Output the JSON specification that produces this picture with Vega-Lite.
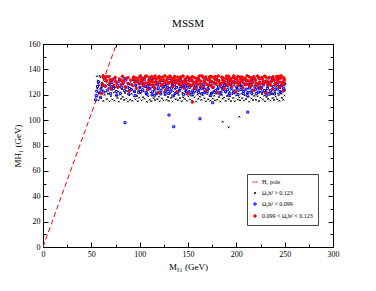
{
 "$schema": "https://vega.github.io/schema/vega-lite/v6.json",
 "width": 290, "height": 203,
 "autosize": "none",
 "padding": {"left": 43, "top": 44, "right": 43, "bottom": 44},
 "background": "white",
 "config": {"font": "Liberation Serif", "view": {"stroke": null}},
 "title": {"text": "MSSM", "fontSize": 11, "font": "Liberation Serif", "fontWeight": "normal", "offset": 11, "anchor": "middle", "color": "black"},
 "layer": [
  {
   "data": {"values": [{"x": 0, "y": 0}, {"x": 76, "y": 160}]},
   "mark": {"type": "line", "color": "#ff0000", "strokeDash": [5, 3], "strokeWidth": 1, "clip": true},
   "encoding": {
    "x": {"field": "x", "type": "quantitative", "scale": {"domain": [0, 300], "nice": false, "zero": false},
     "axis": {"orient": "bottom", "values": [0,25,50,75,100,125,150,175,200,225,250,275,300], "labelExpr": "datum.value % 50 === 0 ? datum.label : ''",
      "tickSize": {"condition": {"test": "datum.value % 50 === 0", "value": -5}, "value": -3},
      "title": "Mᵪ₁ (GeV)", "titleFont": "Liberation Serif", "titleFontSize": 9, "titleFontWeight": "normal", "titlePadding": 2, "titleColor": "black",
      "labelFont": "Liberation Serif", "labelFontSize": 8, "labelPadding": 8, "labelColor": "black", "labelFlush": false, "labelOverlap": false,
      "domainColor": "black", "tickColor": "black", "grid": false}},
    "y": {"field": "y", "type": "quantitative", "scale": {"domain": [0, 160], "nice": false, "zero": false},
     "axis": {"orient": "left", "values": [0,10,20,30,40,50,60,70,80,90,100,110,120,130,140,150,160], "labelExpr": "datum.value % 20 === 0 ? datum.label : ''",
      "tickSize": {"condition": {"test": "datum.value % 20 === 0", "value": -5}, "value": -3},
      "title": "MH₁ (GeV)", "titleFont": "Liberation Serif", "titleFontSize": 9, "titleFontWeight": "normal", "titlePadding": 6, "titleColor": "black",
      "labelFont": "Liberation Serif", "labelFontSize": 8, "labelPadding": 8, "labelColor": "black", "labelFlush": false, "labelOverlap": false,
      "domainColor": "black", "tickColor": "black", "grid": false}}
   }
  },
  {
   "data": {"values": [
{"x":55.3,"y":118.4,"s":"hi"},{"x":56.1,"y":124.9,"s":"hi"},{"x":56.8,"y":131.2,"s":"hi"},{"x":57.4,"y":115.7,"s":"hi"},{"x":58.2,"y":127.6,"s":"hi"},{"x":58.9,"y":121.3,"s":"hi"},{"x":59.5,"y":133.8,"s":"hi"},{"x":60.3,"y":117.2,"s":"hi"},{"x":61.0,"y":129.4,"s":"hi"},{"x":61.6,"y":123.5,"s":"hi"},
{"x":62.4,"y":115.1,"s":"hi"},{"x":63.1,"y":126.8,"s":"hi"},{"x":63.7,"y":119.9,"s":"hi"},{"x":64.5,"y":132.6,"s":"hi"},{"x":65.2,"y":122.4,"s":"hi"},{"x":65.9,"y":116.6,"s":"hi"},{"x":66.7,"y":128.1,"s":"hi"},{"x":67.3,"y":120.7,"s":"hi"},{"x":68.0,"y":125.3,"s":"hi"},{"x":68.8,"y":114.8,"s":"hi"},
{"x":69.5,"y":130.2,"s":"hi"},{"x":70.2,"y":118.9,"s":"hi"},{"x":71.0,"y":123.9,"s":"hi"},{"x":71.7,"y":116.3,"s":"hi"},{"x":72.4,"y":127.0,"s":"hi"},{"x":73.2,"y":121.8,"s":"hi"},{"x":74.0,"y":115.4,"s":"hi"},{"x":74.6,"y":125.9,"s":"hi"},{"x":75.5,"y":119.2,"s":"hi"},{"x":76.3,"y":128.7,"s":"hi"},
{"x":77.0,"y":117.5,"s":"hi"},{"x":77.8,"y":122.6,"s":"hi"},{"x":78.5,"y":114.6,"s":"hi"},{"x":79.3,"y":126.2,"s":"hi"},{"x":80.1,"y":120.1,"s":"hi"},{"x":80.9,"y":116.8,"s":"hi"},{"x":81.6,"y":124.4,"s":"hi"},{"x":82.4,"y":118.3,"s":"hi"},{"x":83.2,"y":127.9,"s":"hi"},{"x":84.0,"y":115.9,"s":"hi"},
{"x":84.7,"y":121.5,"s":"hi"},{"x":85.5,"y":125.1,"s":"hi"},{"x":86.3,"y":117.0,"s":"hi"},{"x":87.1,"y":122.9,"s":"hi"},{"x":87.8,"y":114.7,"s":"hi"},{"x":88.6,"y":128.4,"s":"hi"},{"x":89.4,"y":119.6,"s":"hi"},{"x":90.2,"y":116.1,"s":"hi"},{"x":91.0,"y":124.7,"s":"hi"},{"x":91.7,"y":120.8,"s":"hi"},
{"x":92.5,"y":115.3,"s":"hi"},{"x":93.3,"y":126.6,"s":"hi"},{"x":94.1,"y":118.6,"s":"hi"},{"x":94.9,"y":122.2,"s":"hi"},{"x":95.6,"y":116.4,"s":"hi"},{"x":96.4,"y":127.3,"s":"hi"},{"x":97.2,"y":119.0,"s":"hi"},{"x":98.0,"y":114.9,"s":"hi"},{"x":98.8,"y":123.7,"s":"hi"},{"x":99.5,"y":117.7,"s":"hi"},
{"x":100.3,"y":125.5,"s":"hi"},{"x":101.1,"y":121.0,"s":"hi"},{"x":101.9,"y":115.6,"s":"hi"},{"x":102.7,"y":128.9,"s":"hi"},{"x":103.5,"y":118.1,"s":"hi"},{"x":104.2,"y":122.5,"s":"hi"},{"x":105.0,"y":116.9,"s":"hi"},{"x":105.8,"y":126.0,"s":"hi"},{"x":106.6,"y":120.4,"s":"hi"},{"x":107.4,"y":114.5,"s":"hi"},
{"x":108.2,"y":124.2,"s":"hi"},{"x":108.9,"y":118.8,"s":"hi"},{"x":109.7,"y":127.7,"s":"hi"},{"x":110.5,"y":116.2,"s":"hi"},{"x":111.3,"y":121.9,"s":"hi"},{"x":112.1,"y":115.0,"s":"hi"},{"x":112.9,"y":125.7,"s":"hi"},{"x":113.6,"y":119.4,"s":"hi"},{"x":114.4,"y":117.3,"s":"hi"},{"x":115.2,"y":123.1,"s":"hi"},
{"x":116.0,"y":115.8,"s":"hi"},{"x":116.8,"y":128.2,"s":"hi"},{"x":117.6,"y":120.6,"s":"hi"},{"x":118.4,"y":116.6,"s":"hi"},{"x":119.1,"y":124.0,"s":"hi"},{"x":119.9,"y":118.5,"s":"hi"},{"x":120.7,"y":114.8,"s":"hi"},{"x":121.5,"y":126.9,"s":"hi"},{"x":122.3,"y":121.2,"s":"hi"},{"x":123.1,"y":117.1,"s":"hi"},
{"x":123.8,"y":125.2,"s":"hi"},{"x":124.6,"y":115.5,"s":"hi"},{"x":125.4,"y":122.0,"s":"hi"},{"x":126.2,"y":119.7,"s":"hi"},{"x":127.0,"y":127.4,"s":"hi"},{"x":127.8,"y":116.0,"s":"hi"},{"x":128.6,"y":123.3,"s":"hi"},{"x":129.3,"y":118.2,"s":"hi"},{"x":130.1,"y":115.2,"s":"hi"},{"x":130.9,"y":125.8,"s":"hi"},
{"x":131.7,"y":120.9,"s":"hi"},{"x":132.5,"y":117.6,"s":"hi"},{"x":133.3,"y":128.6,"s":"hi"},{"x":134.0,"y":114.7,"s":"hi"},{"x":134.8,"y":122.7,"s":"hi"},{"x":135.6,"y":119.1,"s":"hi"},{"x":136.4,"y":124.6,"s":"hi"},{"x":137.2,"y":116.5,"s":"hi"},{"x":138.0,"y":121.4,"s":"hi"},{"x":138.7,"y":126.4,"s":"hi"},
{"x":139.5,"y":115.7,"s":"hi"},{"x":140.3,"y":119.8,"s":"hi"},{"x":141.1,"y":123.6,"s":"hi"},{"x":141.9,"y":117.4,"s":"hi"},{"x":142.7,"y":127.1,"s":"hi"},{"x":143.4,"y":114.9,"s":"hi"},{"x":144.2,"y":121.6,"s":"hi"},{"x":145.0,"y":118.0,"s":"hi"},{"x":145.8,"y":125.0,"s":"hi"},{"x":146.6,"y":116.7,"s":"hi"},
{"x":147.4,"y":122.8,"s":"hi"},{"x":148.2,"y":120.2,"s":"hi"},{"x":148.9,"y":115.4,"s":"hi"},{"x":149.7,"y":126.7,"s":"hi"},{"x":150.5,"y":118.7,"s":"hi"},{"x":151.3,"y":123.2,"s":"hi"},{"x":152.1,"y":116.3,"s":"hi"},{"x":152.9,"y":121.1,"s":"hi"},{"x":153.6,"y":128.3,"s":"hi"},{"x":154.4,"y":115.1,"s":"hi"},
{"x":155.2,"y":119.3,"s":"hi"},{"x":156.0,"y":124.5,"s":"hi"},{"x":156.8,"y":117.9,"s":"hi"},{"x":157.6,"y":122.3,"s":"hi"},{"x":158.3,"y":114.6,"s":"hi"},{"x":159.1,"y":126.1,"s":"hi"},{"x":159.9,"y":120.0,"s":"hi"},{"x":160.7,"y":116.8,"s":"hi"},{"x":161.5,"y":123.8,"s":"hi"},{"x":162.3,"y":118.4,"s":"hi"},
{"x":163.0,"y":127.5,"s":"hi"},{"x":163.8,"y":115.9,"s":"hi"},{"x":164.6,"y":121.7,"s":"hi"},{"x":165.4,"y":119.5,"s":"hi"},{"x":166.2,"y":125.4,"s":"hi"},{"x":167.0,"y":117.2,"s":"hi"},{"x":167.8,"y":122.4,"s":"hi"},{"x":168.5,"y":114.8,"s":"hi"},{"x":169.3,"y":128.0,"s":"hi"},{"x":170.1,"y":120.5,"s":"hi"},
{"x":170.9,"y":116.4,"s":"hi"},{"x":171.7,"y":124.3,"s":"hi"},{"x":172.5,"y":118.9,"s":"hi"},{"x":173.2,"y":115.3,"s":"hi"},{"x":174.0,"y":126.5,"s":"hi"},{"x":174.8,"y":121.3,"s":"hi"},{"x":175.6,"y":117.0,"s":"hi"},{"x":176.4,"y":123.0,"s":"hi"},{"x":177.2,"y":119.2,"s":"hi"},{"x":177.9,"y":115.6,"s":"hi"},
{"x":178.7,"y":127.8,"s":"hi"},{"x":179.5,"y":120.7,"s":"hi"},{"x":180.3,"y":116.1,"s":"hi"},{"x":181.1,"y":124.8,"s":"hi"},{"x":181.9,"y":118.2,"s":"hi"},{"x":182.7,"y":122.1,"s":"hi"},{"x":183.4,"y":114.7,"s":"hi"},{"x":184.2,"y":125.6,"s":"hi"},{"x":185.0,"y":119.9,"s":"hi"},{"x":185.8,"y":116.9,"s":"hi"},
{"x":186.6,"y":123.5,"s":"hi"},{"x":187.4,"y":117.8,"s":"hi"},{"x":188.1,"y":128.5,"s":"hi"},{"x":188.9,"y":115.2,"s":"hi"},{"x":189.7,"y":121.8,"s":"hi"},{"x":190.5,"y":119.0,"s":"hi"},{"x":191.3,"y":126.3,"s":"hi"},{"x":192.1,"y":116.5,"s":"hi"},{"x":192.9,"y":122.6,"s":"hi"},{"x":193.6,"y":118.6,"s":"hi"},
{"x":194.4,"y":115.0,"s":"hi"},{"x":195.2,"y":124.1,"s":"hi"},{"x":196.0,"y":120.3,"s":"hi"},{"x":196.8,"y":117.5,"s":"hi"},{"x":197.6,"y":127.2,"s":"hi"},{"x":198.3,"y":114.9,"s":"hi"},{"x":199.1,"y":121.5,"s":"hi"},{"x":199.9,"y":119.4,"s":"hi"},{"x":200.7,"y":125.3,"s":"hi"},{"x":201.5,"y":116.2,"s":"hi"},
{"x":202.3,"y":122.9,"s":"hi"},{"x":203.1,"y":118.0,"s":"hi"},{"x":203.8,"y":115.7,"s":"hi"},{"x":204.6,"y":126.8,"s":"hi"},{"x":205.4,"y":120.8,"s":"hi"},{"x":206.2,"y":117.3,"s":"hi"},{"x":207.0,"y":123.4,"s":"hi"},{"x":207.8,"y":115.4,"s":"hi"},{"x":208.5,"y":119.6,"s":"hi"},{"x":209.3,"y":128.1,"s":"hi"},
{"x":210.1,"y":116.6,"s":"hi"},{"x":210.9,"y":121.2,"s":"hi"},{"x":211.7,"y":124.9,"s":"hi"},{"x":212.5,"y":118.3,"s":"hi"},{"x":213.3,"y":114.6,"s":"hi"},{"x":214.0,"y":122.5,"s":"hi"},{"x":214.8,"y":126.0,"s":"hi"},{"x":215.6,"y":117.1,"s":"hi"},{"x":216.4,"y":120.1,"s":"hi"},{"x":217.2,"y":115.8,"s":"hi"},
{"x":218.0,"y":123.9,"s":"hi"},{"x":218.7,"y":119.1,"s":"hi"},{"x":219.5,"y":127.6,"s":"hi"},{"x":220.3,"y":116.0,"s":"hi"},{"x":221.1,"y":121.9,"s":"hi"},{"x":221.9,"y":118.8,"s":"hi"},{"x":222.7,"y":125.5,"s":"hi"},{"x":223.4,"y":115.1,"s":"hi"},{"x":224.2,"y":122.2,"s":"hi"},{"x":225.0,"y":117.7,"s":"hi"},
{"x":225.8,"y":124.4,"s":"hi"},{"x":226.6,"y":120.6,"s":"hi"},{"x":227.4,"y":116.3,"s":"hi"},{"x":228.2,"y":128.8,"s":"hi"},{"x":228.9,"y":119.3,"s":"hi"},{"x":229.7,"y":114.8,"s":"hi"},{"x":230.5,"y":123.6,"s":"hi"},{"x":231.3,"y":118.1,"s":"hi"},{"x":232.1,"y":125.9,"s":"hi"},{"x":232.9,"y":116.7,"s":"hi"},
{"x":233.6,"y":121.4,"s":"hi"},{"x":234.4,"y":119.8,"s":"hi"},{"x":235.2,"y":115.5,"s":"hi"},{"x":236.0,"y":127.0,"s":"hi"},{"x":236.8,"y":120.4,"s":"hi"},{"x":237.6,"y":117.4,"s":"hi"},{"x":238.3,"y":124.0,"s":"hi"},{"x":239.1,"y":115.9,"s":"hi"},{"x":239.9,"y":122.0,"s":"hi"},{"x":240.7,"y":118.5,"s":"hi"},
{"x":241.5,"y":126.2,"s":"hi"},{"x":242.3,"y":116.4,"s":"hi"},{"x":243.0,"y":121.0,"s":"hi"},{"x":243.8,"y":119.7,"s":"hi"},{"x":244.6,"y":115.3,"s":"hi"},{"x":245.4,"y":125.2,"s":"hi"},{"x":246.2,"y":120.9,"s":"hi"},{"x":247.0,"y":117.6,"s":"hi"},{"x":247.7,"y":123.3,"s":"hi"},{"x":248.5,"y":116.1,"s":"hi"},
{"x":249.3,"y":127.3,"s":"hi"},{"x":249.8,"y":119.4,"s":"hi"},
{"x":55.8,"y":134.5,"s":"hi"},{"x":57.0,"y":129.0,"s":"hi"},{"x":58.6,"y":135.0,"s":"hi"},{"x":60.9,"y":126.0,"s":"hi"},{"x":62.0,"y":134.0,"s":"hi"},{"x":64.0,"y":130.5,"s":"hi"},{"x":66.2,"y":133.9,"s":"hi"},{"x":69.0,"y":134.8,"s":"hi"},{"x":73.5,"y":133.0,"s":"hi"},{"x":79.0,"y":131.5,"s":"hi"},
{"x":86.8,"y":132.8,"s":"hi"},{"x":95.1,"y":130.9,"s":"hi"},{"x":104.8,"y":133.5,"s":"hi"},{"x":113.0,"y":131.7,"s":"hi"},{"x":121.9,"y":134.2,"s":"hi"},{"x":131.3,"y":132.1,"s":"hi"},{"x":142.0,"y":130.6,"s":"hi"},{"x":151.0,"y":133.8,"s":"hi"},{"x":160.2,"y":131.3,"s":"hi"},{"x":171.0,"y":134.4,"s":"hi"},
{"x":182.0,"y":130.2,"s":"hi"},{"x":194.0,"y":133.2,"s":"hi"},{"x":206.5,"y":131.0,"s":"hi"},{"x":218.5,"y":134.6,"s":"hi"},{"x":231.0,"y":130.8,"s":"hi"},{"x":244.0,"y":133.6,"s":"hi"},{"x":248.8,"y":131.5,"s":"hi"},
{"x":185.9,"y":98.8,"s":"hi"},{"x":192.1,"y":94.3,"s":"hi"},{"x":203.1,"y":102.7,"s":"hi"},
{"x":54.2,"y":116.0,"s":"lo"},{"x":54.9,"y":119.3,"s":"lo"},{"x":55.6,"y":122.8,"s":"lo"},{"x":56.4,"y":126.5,"s":"lo"},{"x":57.5,"y":130.1,"s":"lo"},{"x":58.7,"y":121.6,"s":"lo"},{"x":60.0,"y":124.4,"s":"lo"},{"x":61.3,"y":128.0,"s":"lo"},{"x":62.7,"y":122.1,"s":"lo"},{"x":64.1,"y":126.9,"s":"lo"},
{"x":65.6,"y":131.0,"s":"lo"},{"x":67.0,"y":123.7,"s":"lo"},{"x":68.4,"y":127.8,"s":"lo"},{"x":69.9,"y":120.9,"s":"lo"},{"x":71.3,"y":129.6,"s":"lo"},{"x":72.8,"y":124.9,"s":"lo"},{"x":74.2,"y":132.3,"s":"lo"},{"x":75.7,"y":122.5,"s":"lo"},{"x":77.1,"y":127.1,"s":"lo"},{"x":78.6,"y":130.7,"s":"lo"},
{"x":80.0,"y":121.2,"s":"lo"},{"x":81.5,"y":125.6,"s":"lo"},{"x":82.9,"y":129.2,"s":"lo"},{"x":84.4,"y":123.3,"s":"lo"},{"x":85.8,"y":131.6,"s":"lo"},{"x":87.3,"y":126.1,"s":"lo"},{"x":88.7,"y":120.6,"s":"lo"},{"x":90.2,"y":128.4,"s":"lo"},{"x":91.6,"y":124.0,"s":"lo"},{"x":93.1,"y":132.0,"s":"lo"},
{"x":94.5,"y":122.7,"s":"lo"},{"x":96.0,"y":127.4,"s":"lo"},{"x":97.4,"y":130.3,"s":"lo"},{"x":98.9,"y":121.8,"s":"lo"},{"x":100.3,"y":125.9,"s":"lo"},{"x":101.8,"y":129.0,"s":"lo"},{"x":103.2,"y":123.9,"s":"lo"},{"x":104.7,"y":131.8,"s":"lo"},{"x":106.1,"y":126.7,"s":"lo"},{"x":107.6,"y":120.4,"s":"lo"},
{"x":109.0,"y":128.9,"s":"lo"},{"x":110.5,"y":124.6,"s":"lo"},{"x":111.9,"y":132.5,"s":"lo"},{"x":113.4,"y":122.3,"s":"lo"},{"x":114.8,"y":127.0,"s":"lo"},{"x":116.3,"y":130.0,"s":"lo"},{"x":117.7,"y":121.4,"s":"lo"},{"x":119.2,"y":125.3,"s":"lo"},{"x":120.6,"y":129.5,"s":"lo"},{"x":122.1,"y":123.5,"s":"lo"},
{"x":123.5,"y":131.2,"s":"lo"},{"x":125.0,"y":126.3,"s":"lo"},{"x":126.4,"y":120.8,"s":"lo"},{"x":127.9,"y":128.6,"s":"lo"},{"x":129.3,"y":124.2,"s":"lo"},{"x":130.8,"y":132.8,"s":"lo"},{"x":132.2,"y":122.9,"s":"lo"},{"x":133.7,"y":127.6,"s":"lo"},{"x":135.1,"y":130.5,"s":"lo"},{"x":136.6,"y":121.0,"s":"lo"},
{"x":138.0,"y":125.8,"s":"lo"},{"x":139.5,"y":129.3,"s":"lo"},{"x":140.9,"y":123.1,"s":"lo"},{"x":142.4,"y":131.4,"s":"lo"},{"x":143.8,"y":126.5,"s":"lo"},{"x":145.3,"y":120.3,"s":"lo"},{"x":146.7,"y":128.2,"s":"lo"},{"x":148.2,"y":124.8,"s":"lo"},{"x":149.6,"y":132.2,"s":"lo"},{"x":151.1,"y":122.0,"s":"lo"},
{"x":152.5,"y":127.2,"s":"lo"},{"x":154.0,"y":130.9,"s":"lo"},{"x":155.4,"y":121.5,"s":"lo"},{"x":156.9,"y":125.5,"s":"lo"},{"x":158.3,"y":129.8,"s":"lo"},{"x":159.8,"y":123.8,"s":"lo"},{"x":161.2,"y":131.9,"s":"lo"},{"x":162.7,"y":126.0,"s":"lo"},{"x":164.1,"y":120.7,"s":"lo"},{"x":165.6,"y":128.5,"s":"lo"},
{"x":167.0,"y":124.3,"s":"lo"},{"x":168.5,"y":132.6,"s":"lo"},{"x":169.9,"y":122.6,"s":"lo"},{"x":171.4,"y":127.3,"s":"lo"},{"x":172.8,"y":130.4,"s":"lo"},{"x":174.3,"y":121.3,"s":"lo"},{"x":175.7,"y":125.7,"s":"lo"},{"x":177.2,"y":129.1,"s":"lo"},{"x":178.6,"y":123.4,"s":"lo"},{"x":180.1,"y":131.5,"s":"lo"},
{"x":181.5,"y":126.8,"s":"lo"},{"x":183.0,"y":120.5,"s":"lo"},{"x":184.4,"y":128.7,"s":"lo"},{"x":185.9,"y":124.5,"s":"lo"},{"x":187.3,"y":132.1,"s":"lo"},{"x":188.8,"y":122.4,"s":"lo"},{"x":190.2,"y":127.5,"s":"lo"},{"x":191.7,"y":130.6,"s":"lo"},{"x":193.1,"y":121.1,"s":"lo"},{"x":194.6,"y":125.2,"s":"lo"},
{"x":196.0,"y":129.4,"s":"lo"},{"x":197.5,"y":123.0,"s":"lo"},{"x":198.9,"y":131.3,"s":"lo"},{"x":200.4,"y":126.2,"s":"lo"},{"x":201.8,"y":120.2,"s":"lo"},{"x":203.3,"y":128.3,"s":"lo"},{"x":204.7,"y":124.1,"s":"lo"},{"x":206.2,"y":132.4,"s":"lo"},{"x":207.6,"y":122.8,"s":"lo"},{"x":209.1,"y":127.9,"s":"lo"},
{"x":210.5,"y":130.8,"s":"lo"},{"x":212.0,"y":121.7,"s":"lo"},{"x":213.4,"y":125.4,"s":"lo"},{"x":214.9,"y":129.7,"s":"lo"},{"x":216.3,"y":123.6,"s":"lo"},{"x":217.8,"y":131.7,"s":"lo"},{"x":219.2,"y":126.4,"s":"lo"},{"x":220.7,"y":120.9,"s":"lo"},{"x":222.1,"y":128.1,"s":"lo"},{"x":223.6,"y":124.7,"s":"lo"},
{"x":225.0,"y":132.7,"s":"lo"},{"x":226.5,"y":122.2,"s":"lo"},{"x":227.9,"y":127.7,"s":"lo"},{"x":229.4,"y":130.2,"s":"lo"},{"x":230.8,"y":121.9,"s":"lo"},{"x":232.3,"y":125.0,"s":"lo"},{"x":233.7,"y":129.9,"s":"lo"},{"x":235.2,"y":123.2,"s":"lo"},{"x":236.6,"y":131.1,"s":"lo"},{"x":238.1,"y":126.6,"s":"lo"},
{"x":239.5,"y":120.6,"s":"lo"},{"x":241.0,"y":128.8,"s":"lo"},{"x":242.4,"y":124.4,"s":"lo"},{"x":243.9,"y":132.9,"s":"lo"},{"x":245.3,"y":122.5,"s":"lo"},{"x":246.8,"y":127.4,"s":"lo"},{"x":248.2,"y":130.0,"s":"lo"},{"x":249.6,"y":123.7,"s":"lo"},
{"x":59.3,"y":118.0,"s":"lo"},{"x":63.4,"y":133.5,"s":"lo"},{"x":70.6,"y":126.3,"s":"lo"},{"x":76.4,"y":119.8,"s":"lo"},{"x":83.7,"y":133.1,"s":"lo"},{"x":89.5,"y":124.9,"s":"lo"},{"x":95.3,"y":119.5,"s":"lo"},{"x":102.5,"y":133.2,"s":"lo"},{"x":108.3,"y":126.2,"s":"lo"},{"x":115.6,"y":119.6,"s":"lo"},
{"x":121.4,"y":133.4,"s":"lo"},{"x":128.6,"y":126.0,"s":"lo"},{"x":134.4,"y":119.1,"s":"lo"},{"x":141.7,"y":133.3,"s":"lo"},{"x":147.5,"y":126.9,"s":"lo"},{"x":153.3,"y":119.9,"s":"lo"},{"x":160.5,"y":133.0,"s":"lo"},{"x":166.3,"y":126.6,"s":"lo"},{"x":173.6,"y":119.4,"s":"lo"},{"x":179.4,"y":133.6,"s":"lo"},
{"x":186.6,"y":126.1,"s":"lo"},{"x":192.4,"y":119.7,"s":"lo"},{"x":199.7,"y":133.1,"s":"lo"},{"x":205.5,"y":126.8,"s":"lo"},{"x":211.3,"y":119.3,"s":"lo"},{"x":218.5,"y":133.5,"s":"lo"},{"x":224.3,"y":125.9,"s":"lo"},{"x":231.6,"y":119.8,"s":"lo"},{"x":237.4,"y":133.2,"s":"lo"},{"x":244.6,"y":126.3,"s":"lo"},{"x":250.0,"y":128.5,"s":"lo"},
{"x":100.9,"y":122.6,"s":"lo"},{"x":104.0,"y":127.7,"s":"lo"},{"x":106.9,"y":121.9,"s":"lo"},{"x":109.8,"y":125.0,"s":"lo"},{"x":112.7,"y":120.0,"s":"lo"},{"x":115.8,"y":124.5,"s":"lo"},{"x":118.5,"y":127.8,"s":"lo"},{"x":121.8,"y":120.7,"s":"lo"},{"x":124.5,"y":126.8,"s":"lo"},{"x":127.2,"y":123.0,"s":"lo"},
{"x":130.0,"y":121.0,"s":"lo"},{"x":133.0,"y":125.1,"s":"lo"},{"x":136.0,"y":127.9,"s":"lo"},{"x":139.0,"y":121.6,"s":"lo"},{"x":142.0,"y":124.9,"s":"lo"},{"x":145.0,"y":127.0,"s":"lo"},{"x":148.0,"y":122.5,"s":"lo"},{"x":151.8,"y":125.8,"s":"lo"},{"x":154.8,"y":123.1,"s":"lo"},{"x":157.7,"y":127.5,"s":"lo"},
{"x":160.9,"y":121.8,"s":"lo"},{"x":164.0,"y":125.0,"s":"lo"},{"x":167.2,"y":121.6,"s":"lo"},{"x":170.6,"y":124.8,"s":"lo"},{"x":173.9,"y":127.6,"s":"lo"},{"x":177.5,"y":121.9,"s":"lo"},{"x":180.9,"y":124.6,"s":"lo"},{"x":184.1,"y":122.0,"s":"lo"},{"x":187.7,"y":127.2,"s":"lo"},{"x":191.0,"y":124.0,"s":"lo"},
{"x":194.0,"y":128.0,"s":"lo"},{"x":197.1,"y":121.5,"s":"lo"},{"x":200.8,"y":124.5,"s":"lo"},{"x":204.0,"y":127.0,"s":"lo"},{"x":207.2,"y":120.9,"s":"lo"},{"x":210.0,"y":124.4,"s":"lo"},{"x":213.0,"y":128.2,"s":"lo"},{"x":216.0,"y":121.2,"s":"lo"},{"x":219.9,"y":124.2,"s":"lo"},{"x":223.0,"y":122.0,"s":"lo"},
{"x":226.0,"y":125.6,"s":"lo"},{"x":229.0,"y":123.3,"s":"lo"},{"x":232.7,"y":127.6,"s":"lo"},{"x":236.0,"y":121.4,"s":"lo"},{"x":239.8,"y":124.0,"s":"lo"},{"x":242.8,"y":128.0,"s":"lo"},{"x":246.0,"y":121.6,"s":"lo"},{"x":248.9,"y":125.1,"s":"lo"},
{"x":84.8,"y":98.0,"s":"lo"},{"x":130.3,"y":104.0,"s":"lo"},{"x":135.2,"y":94.8,"s":"lo"},{"x":162.4,"y":101.1,"s":"lo"},{"x":175.5,"y":113.7,"s":"lo"},{"x":211.7,"y":106.3,"s":"lo"},
{"x":60.5,"y":121.0,"s":"ok"},{"x":61.8,"y":128.3,"s":"ok"},{"x":63.0,"y":132.9,"s":"ok"},{"x":64.6,"y":126.7,"s":"ok"},{"x":66.0,"y":130.8,"s":"ok"},{"x":67.5,"y":134.2,"s":"ok"},{"x":68.9,"y":128.9,"s":"ok"},{"x":70.4,"y":124.5,"s":"ok"},{"x":71.8,"y":131.9,"s":"ok"},{"x":73.3,"y":127.4,"s":"ok"},
{"x":74.7,"y":133.7,"s":"ok"},{"x":76.2,"y":129.6,"s":"ok"},{"x":77.6,"y":125.8,"s":"ok"},{"x":79.1,"y":132.4,"s":"ok"},{"x":80.5,"y":128.1,"s":"ok"},{"x":82.0,"y":134.6,"s":"ok"},{"x":83.4,"y":130.3,"s":"ok"},{"x":84.9,"y":126.2,"s":"ok"},{"x":86.3,"y":133.0,"s":"ok"},{"x":87.8,"y":129.0,"s":"ok"},
{"x":89.2,"y":122.8,"s":"ok"},{"x":90.7,"y":131.4,"s":"ok"},{"x":92.1,"y":127.7,"s":"ok"},{"x":93.6,"y":134.0,"s":"ok"},{"x":95.0,"y":129.9,"s":"ok"},{"x":96.5,"y":125.1,"s":"ok"},{"x":97.9,"y":132.7,"s":"ok"},{"x":99.4,"y":128.6,"s":"ok"},{"x":100.8,"y":134.9,"s":"ok"},{"x":102.3,"y":130.6,"s":"ok"},
{"x":103.7,"y":126.9,"s":"ok"},{"x":105.2,"y":133.4,"s":"ok"},{"x":106.6,"y":129.3,"s":"ok"},{"x":108.1,"y":124.1,"s":"ok"},{"x":109.5,"y":131.6,"s":"ok"},{"x":111.0,"y":127.9,"s":"ok"},{"x":112.4,"y":134.4,"s":"ok"},{"x":113.9,"y":130.0,"s":"ok"},{"x":115.3,"y":125.5,"s":"ok"},{"x":116.8,"y":132.2,"s":"ok"},
{"x":118.2,"y":128.4,"s":"ok"},{"x":119.7,"y":121.7,"s":"ok"},{"x":121.1,"y":130.9,"s":"ok"},{"x":122.6,"y":127.2,"s":"ok"},{"x":124.0,"y":133.9,"s":"ok"},{"x":125.5,"y":129.5,"s":"ok"},{"x":126.9,"y":123.9,"s":"ok"},{"x":128.4,"y":132.6,"s":"ok"},{"x":129.8,"y":128.8,"s":"ok"},{"x":131.3,"y":134.7,"s":"ok"},
{"x":132.7,"y":130.4,"s":"ok"},{"x":134.2,"y":126.4,"s":"ok"},{"x":135.6,"y":133.1,"s":"ok"},{"x":137.1,"y":129.2,"s":"ok"},{"x":138.5,"y":122.5,"s":"ok"},{"x":140.0,"y":131.3,"s":"ok"},{"x":141.4,"y":127.6,"s":"ok"},{"x":142.9,"y":134.1,"s":"ok"},{"x":144.3,"y":130.1,"s":"ok"},{"x":145.8,"y":125.3,"s":"ok"},
{"x":147.2,"y":132.5,"s":"ok"},{"x":148.7,"y":128.5,"s":"ok"},{"x":150.1,"y":120.8,"s":"ok"},{"x":151.6,"y":131.0,"s":"ok"},{"x":153.0,"y":127.0,"s":"ok"},{"x":154.5,"y":134.3,"s":"ok"},{"x":155.9,"y":129.8,"s":"ok"},{"x":157.4,"y":124.7,"s":"ok"},{"x":158.8,"y":132.8,"s":"ok"},{"x":160.3,"y":128.2,"s":"ok"},
{"x":161.7,"y":134.8,"s":"ok"},{"x":163.2,"y":130.7,"s":"ok"},{"x":164.6,"y":126.1,"s":"ok"},{"x":166.1,"y":133.2,"s":"ok"},{"x":167.5,"y":129.4,"s":"ok"},{"x":169.0,"y":123.3,"s":"ok"},{"x":170.4,"y":131.7,"s":"ok"},{"x":171.9,"y":127.8,"s":"ok"},{"x":173.3,"y":134.5,"s":"ok"},{"x":174.8,"y":130.2,"s":"ok"},
{"x":176.2,"y":125.9,"s":"ok"},{"x":177.7,"y":132.3,"s":"ok"},{"x":179.1,"y":128.7,"s":"ok"},{"x":180.6,"y":121.9,"s":"ok"},{"x":182.0,"y":131.2,"s":"ok"},{"x":183.5,"y":127.3,"s":"ok"},{"x":184.9,"y":133.8,"s":"ok"},{"x":186.4,"y":129.7,"s":"ok"},{"x":187.8,"y":124.9,"s":"ok"},{"x":189.3,"y":132.9,"s":"ok"},
{"x":190.7,"y":128.0,"s":"ok"},{"x":192.2,"y":134.6,"s":"ok"},{"x":193.6,"y":130.5,"s":"ok"},{"x":195.1,"y":126.5,"s":"ok"},{"x":196.5,"y":133.5,"s":"ok"},{"x":198.0,"y":129.1,"s":"ok"},{"x":199.4,"y":122.2,"s":"ok"},{"x":200.9,"y":131.8,"s":"ok"},{"x":202.3,"y":127.5,"s":"ok"},{"x":203.8,"y":134.0,"s":"ok"},
{"x":205.2,"y":130.3,"s":"ok"},{"x":206.7,"y":125.6,"s":"ok"},{"x":208.1,"y":132.1,"s":"ok"},{"x":209.6,"y":128.3,"s":"ok"},{"x":211.0,"y":134.9,"s":"ok"},{"x":212.5,"y":130.8,"s":"ok"},{"x":213.9,"y":126.8,"s":"ok"},{"x":215.4,"y":133.3,"s":"ok"},{"x":216.8,"y":129.6,"s":"ok"},{"x":218.3,"y":123.6,"s":"ok"},
{"x":219.7,"y":131.5,"s":"ok"},{"x":221.2,"y":127.1,"s":"ok"},{"x":222.6,"y":134.2,"s":"ok"},{"x":224.1,"y":130.0,"s":"ok"},{"x":225.5,"y":125.2,"s":"ok"},{"x":227.0,"y":132.4,"s":"ok"},{"x":228.4,"y":128.9,"s":"ok"},{"x":229.9,"y":121.4,"s":"ok"},{"x":231.3,"y":131.1,"s":"ok"},{"x":232.8,"y":127.4,"s":"ok"},
{"x":234.2,"y":133.6,"s":"ok"},{"x":235.7,"y":129.9,"s":"ok"},{"x":237.1,"y":124.3,"s":"ok"},{"x":238.6,"y":132.7,"s":"ok"},{"x":240.0,"y":128.6,"s":"ok"},{"x":241.5,"y":134.4,"s":"ok"},{"x":242.9,"y":130.6,"s":"ok"},{"x":244.4,"y":126.0,"s":"ok"},{"x":245.8,"y":133.0,"s":"ok"},{"x":247.3,"y":129.3,"s":"ok"},
{"x":248.7,"y":123.0,"s":"ok"},{"x":249.9,"y":131.9,"s":"ok"},
{"x":62.2,"y":135.0,"s":"ok"},{"x":65.3,"y":134.1,"s":"ok"},{"x":69.6,"y":132.0,"s":"ok"},{"x":75.0,"y":130.5,"s":"ok"},{"x":81.2,"y":131.2,"s":"ok"},{"x":88.1,"y":133.6,"s":"ok"},{"x":94.2,"y":132.4,"s":"ok"},{"x":101.6,"y":131.8,"s":"ok"},{"x":107.3,"y":134.7,"s":"ok"},{"x":114.6,"y":133.1,"s":"ok"},
{"x":120.0,"y":134.5,"s":"ok"},{"x":127.7,"y":131.1,"s":"ok"},{"x":133.5,"y":132.4,"s":"ok"},{"x":139.3,"y":133.9,"s":"ok"},{"x":146.2,"y":131.0,"s":"ok"},{"x":152.4,"y":133.0,"s":"ok"},{"x":159.6,"y":130.9,"s":"ok"},{"x":165.0,"y":134.4,"s":"ok"},{"x":172.2,"y":132.9,"s":"ok"},{"x":178.4,"y":134.3,"s":"ok"},
{"x":185.7,"y":131.4,"s":"ok"},{"x":191.5,"y":132.3,"s":"ok"},{"x":197.3,"y":134.9,"s":"ok"},{"x":204.5,"y":132.5,"s":"ok"},{"x":210.3,"y":131.6,"s":"ok"},{"x":217.6,"y":134.1,"s":"ok"},{"x":223.4,"y":132.8,"s":"ok"},{"x":230.6,"y":133.9,"s":"ok"},{"x":236.4,"y":130.7,"s":"ok"},{"x":243.7,"y":134.5,"s":"ok"},
{"x":249.0,"y":133.4,"s":"ok"},
{"x":96.0,"y":133.3,"s":"ok"},{"x":98.6,"y":130.7,"s":"ok"},{"x":99.9,"y":134.1,"s":"ok"},{"x":103.0,"y":132.0,"s":"ok"},{"x":104.5,"y":128.9,"s":"ok"},{"x":106.0,"y":134.6,"s":"ok"},{"x":109.0,"y":129.8,"s":"ok"},{"x":110.2,"y":133.6,"s":"ok"},{"x":112.0,"y":130.4,"s":"ok"},{"x":113.2,"y":127.5,"s":"ok"},
{"x":116.0,"y":134.8,"s":"ok"},{"x":117.5,"y":130.1,"s":"ok"},{"x":118.9,"y":133.2,"s":"ok"},{"x":122.0,"y":132.2,"s":"ok"},{"x":123.3,"y":128.0,"s":"ok"},{"x":124.8,"y":131.6,"s":"ok"},{"x":126.1,"y":134.9,"s":"ok"},{"x":129.0,"y":133.7,"s":"ok"},{"x":130.5,"y":129.7,"s":"ok"},{"x":132.0,"y":133.9,"s":"ok"},
{"x":134.8,"y":129.5,"s":"ok"},{"x":136.3,"y":134.5,"s":"ok"},{"x":137.8,"y":131.5,"s":"ok"},{"x":140.7,"y":128.7,"s":"ok"},{"x":142.1,"y":132.8,"s":"ok"},{"x":143.6,"y":129.1,"s":"ok"},{"x":145.0,"y":134.7,"s":"ok"},{"x":147.9,"y":130.3,"s":"ok"},{"x":149.4,"y":134.2,"s":"ok"},{"x":150.8,"y":128.4,"s":"ok"},
{"x":153.7,"y":131.9,"s":"ok"},{"x":155.2,"y":127.7,"s":"ok"},{"x":156.6,"y":133.5,"s":"ok"},{"x":158.1,"y":130.0,"s":"ok"},{"x":161.0,"y":132.0,"s":"ok"},{"x":162.4,"y":128.6,"s":"ok"},{"x":163.9,"y":134.9,"s":"ok"},{"x":166.8,"y":130.8,"s":"ok"},{"x":168.2,"y":134.0,"s":"ok"},{"x":169.7,"y":128.1,"s":"ok"},
{"x":172.6,"y":131.6,"s":"ok"},{"x":174.0,"y":127.0,"s":"ok"},{"x":175.5,"y":133.9,"s":"ok"},{"x":177.0,"y":129.5,"s":"ok"},{"x":179.8,"y":131.7,"s":"ok"},{"x":181.3,"y":134.8,"s":"ok"},{"x":183.0,"y":129.0,"s":"ok"},{"x":186.0,"y":133.6,"s":"ok"},{"x":188.5,"y":130.3,"s":"ok"},{"x":190.0,"y":134.7,"s":"ok"},
{"x":193.0,"y":128.5,"s":"ok"},{"x":194.4,"y":132.7,"s":"ok"},{"x":196.0,"y":130.6,"s":"ok"},{"x":198.7,"y":133.1,"s":"ok"},{"x":200.2,"y":129.4,"s":"ok"},{"x":201.6,"y":134.5,"s":"ok"},{"x":203.0,"y":130.0,"s":"ok"},{"x":206.0,"y":133.9,"s":"ok"},{"x":207.4,"y":129.2,"s":"ok"},{"x":209.0,"y":133.0,"s":"ok"},
{"x":211.8,"y":128.2,"s":"ok"},{"x":213.2,"y":134.2,"s":"ok"},{"x":214.6,"y":131.2,"s":"ok"},{"x":216.0,"y":127.4,"s":"ok"},{"x":218.9,"y":132.6,"s":"ok"},{"x":220.4,"y":129.3,"s":"ok"},{"x":221.9,"y":134.8,"s":"ok"},{"x":224.8,"y":128.5,"s":"ok"},{"x":226.3,"y":133.6,"s":"ok"},{"x":227.7,"y":130.3,"s":"ok"},
{"x":229.2,"y":134.7,"s":"ok"},{"x":232.0,"y":129.6,"s":"ok"},{"x":233.5,"y":133.2,"s":"ok"},{"x":235.0,"y":127.8,"s":"ok"},{"x":237.8,"y":134.2,"s":"ok"},{"x":239.3,"y":131.4,"s":"ok"},{"x":240.7,"y":128.0,"s":"ok"},{"x":242.2,"y":132.4,"s":"ok"},{"x":245.1,"y":130.0,"s":"ok"},{"x":246.5,"y":134.9,"s":"ok"},
{"x":248.0,"y":127.6,"s":"ok"},{"x":249.5,"y":129.6,"s":"ok"},
{"x":154.5,"y":114.3,"s":"ok"}
   ]},
   "mark": {"type": "point", "size": 25, "strokeWidth": 1, "opacity": 1, "filled": false},
   "encoding": {
    "x": {"field": "x", "type": "quantitative",
     "axis": {"orient": "top", "values": [0,25,50,75,100,125,150,175,200,225,250,275,300], "labels": false, "title": null,
      "tickSize": {"condition": {"test": "datum.value % 50 === 0", "value": -5}, "value": -3},
      "domainColor": "black", "tickColor": "black", "grid": false}},
    "y": {"field": "y", "type": "quantitative",
     "axis": {"orient": "right", "values": [0,10,20,30,40,50,60,70,80,90,100,110,120,130,140,150,160], "labels": false, "title": null,
      "tickSize": {"condition": {"test": "datum.value % 20 === 0", "value": -5}, "value": -3},
      "domainColor": "black", "tickColor": "black", "grid": false}},
    "shape": {"field": "s", "type": "nominal",
     "scale": {"domain": ["pole", "hi", "lo", "ok"], "range": ["M-1,0H-0.15M0.15,0H1", "M-0.3,-0.3L0.3,0.3M0.3,-0.3L-0.3,0.3", "M-0.4,-0.4H0.4V0.4H-0.4Z", "M0.5,0A0.5,0.5,0,1,1,-0.5,0A0.5,0.5,0,1,1,0.5,0Z"]},
     "legend": {"orient": "none", "legendX": 204, "legendY": 130, "title": null, "strokeColor": "#444", "fillColor": "white", "padding": 5, "labelFont": "Liberation Serif", "labelFontSize": 6, "labelColor": "black", "rowPadding": 5, "symbolSize": 25, "symbolStrokeWidth": 1,
      "labelExpr": "datum.label === 'pole' ? 'H₁ pole' : datum.label === 'hi' ? 'Ωᵪh² > 0.123' : datum.label === 'lo' ? 'Ωᵪh² < 0.099' : '0.099 < Ωᵪh² < 0.123'"}},
    "stroke": {"field": "s", "type": "nominal",
     "scale": {"domain": ["pole", "hi", "lo", "ok"], "range": ["#ff0000", "#000000", "#0000ff", "#ff0000"]},
     "legend": {"orient": "none", "legendX": 204, "legendY": 130, "title": null, "strokeColor": "#444", "fillColor": "white", "padding": 5, "labelFont": "Liberation Serif", "labelFontSize": 6, "labelColor": "black", "rowPadding": 5, "symbolSize": 25, "symbolStrokeWidth": 1,
      "labelExpr": "datum.label === 'pole' ? 'H₁ pole' : datum.label === 'hi' ? 'Ωᵪh² > 0.123' : datum.label === 'lo' ? 'Ωᵪh² < 0.099' : '0.099 < Ωᵪh² < 0.123'"}},
    "fill": {"field": "s", "type": "nominal",
     "scale": {"domain": ["pole", "hi", "lo", "ok"], "range": ["transparent", "transparent", "transparent", "#ff0000"]},
     "legend": {"orient": "none", "legendX": 204, "legendY": 130, "title": null, "strokeColor": "#444", "fillColor": "white", "padding": 5, "labelFont": "Liberation Serif", "labelFontSize": 6, "labelColor": "black", "rowPadding": 5, "symbolSize": 25, "symbolStrokeWidth": 1,
      "labelExpr": "datum.label === 'pole' ? 'H₁ pole' : datum.label === 'hi' ? 'Ωᵪh² > 0.123' : datum.label === 'lo' ? 'Ωᵪh² < 0.099' : '0.099 < Ωᵪh² < 0.123'"}}
   }
  }
 ],
 "resolve": {"axis": {"x": "independent", "y": "independent"}}
}
